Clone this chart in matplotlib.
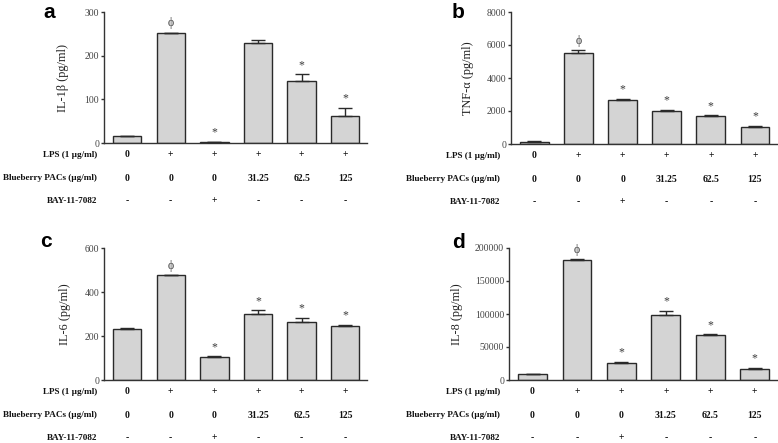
import matplotlib
matplotlib.use("Agg")
import matplotlib.pyplot as plt
import numpy as np

W, H = 778, 443

# ---- data ----
lps = ["0", "+", "+", "+", "+", "+"]
pacs = ["0", "0", "0", "31.25", "62.5", "125"]
bay = ["-", "-", "+", "-", "-", "-"]
row_names = ["LPS (1 \u00b5g/ml)", "Blueberry PACs (\u00b5g/ml)", "BAY-11-7082"]

il1b_mean = [15, 251, 1.5, 228, 143, 61]
il1b_err = [2, 2, 1, 7, 14, 19]
il1b_sig = ["", "\u03d5", "*", "", "*", "*"]

tnf_mean = [100, 5530, 2670, 1970, 1670, 1005]
tnf_err = [60, 180, 60, 100, 80, 100]
tnf_sig = ["", "\u03d5", "*", "*", "*", "*"]

il6_mean = [230, 476, 105, 300, 262, 244]
il6_err = [6, 2, 3, 17, 21, 6]
il6_sig = ["", "\u03d5", "*", "*", "*", "*"]

il8_mean = [8600, 181800, 26300, 98000, 68200, 17200]
il8_err = [1000, 1000, 1000, 6500, 1000, 1000]
il8_sig = ["", "\u03d5", "*", "*", "*", "*"]

panels = [
    dict(letter="a", ylabel="IL-1\u03b2 (pg/ml)", mean=il1b_mean, err=il1b_err, sig=il1b_sig,
         ymax=300, ticks=[0, 100, 200, 300], box=(104, 367, 12, 143), lab=63, let=(43, 18), names_r=97),
    dict(letter="b", ylabel="TNF-\u03b1 (pg/ml)", mean=tnf_mean, err=tnf_err, sig=tnf_sig,
         ymax=8000, ticks=[0, 2000, 4000, 6000, 8000], box=(511, 777, 12, 144), lab=468, let=(452, 18), names_r=500),
    dict(letter="c", ylabel="IL-6 (pg/ml)", mean=il6_mean, err=il6_err, sig=il6_sig,
         ymax=600, ticks=[0, 200, 400, 600], box=(104, 367, 248, 380), lab=65, let=(40, 247), names_r=97),
    dict(letter="d", ylabel="IL-8 (pg/ml)", mean=il8_mean, err=il8_err, sig=il8_sig,
         ymax=200000, ticks=[0, 50000, 100000, 150000, 200000], box=(509, 777, 248, 380), lab=457, let=(452, 248), names_r=500),
]

serif = ["Liberation Serif", "DejaVu Serif"]
plt.rcParams["font.family"] = serif

fig = plt.figure(figsize=(W / 100, H / 100), dpi=100)
fig.patch.set_facecolor("white")

PX = 72.0 / 100.0  # points per pixel
row_off_px = [11.5, 35, 57.5]

for p in panels:
    l, r, t, b = p["box"]
    ax = fig.add_axes([l / W, 1 - b / H, (r - l) / W, (b - t) / H])
    x = np.arange(len(p["mean"]))
    mean = np.array(p["mean"], dtype=float)
    err = np.array(p["err"], dtype=float)
    ax.bar(x, mean, width=0.65, color="#d4d4d4", edgecolor="#2a2a2a", linewidth=1.0, zorder=2)
    ax.errorbar(x, mean, yerr=[np.zeros_like(err), err], fmt="none", ecolor="#2a2a2a",
                elinewidth=1.0, capsize=5.2, capthick=1.0, zorder=3)
    for xi, m, e, s in zip(x, mean, err, p["sig"]):
        if s:
            ax.annotate(s, xy=(xi, m + e), xytext=(0, 4.5), textcoords="offset points",
                        ha="center", va="baseline", fontsize=8.5, color="#3a3a3a",
                        family=serif, annotation_clip=False)
    ax.set_xlim(-0.53, 5.5)
    ax.set_ylim(0, p["ymax"])
    ax.set_yticks(p["ticks"])
    ax.set_xticks([])
    for sp in ["top", "right"]:
        ax.spines[sp].set_visible(False)
    for sp in ["left", "bottom"]:
        ax.spines[sp].set_linewidth(1.0)
        ax.spines[sp].set_color("#333333")
    ax.tick_params(axis="y", length=2.5, width=1.0, color="#333333", labelsize=7,
                   labelcolor="#444444", pad=1)
    ax.set_ylabel(p["ylabel"], fontsize=8.8, va="center", color="#222222")
    axw = r - l
    ax.yaxis.set_label_coords(-(l - p["lab"]) / axw, 0.5)

    # category rows
    for rows, off in zip([lps, pacs, bay], row_off_px):
        for xi, txt in zip(x, rows):
            ax.annotate(txt, xy=(xi, 0), xycoords=("data", "axes fraction"),
                        xytext=(0, -off * PX), textcoords="offset points", ha="center", va="center",
                        fontsize=7, fontweight="bold", color="#111111", annotation_clip=False)
    for name, off in zip(row_names, row_off_px):
        ax.annotate(name, xy=(0, 0), xycoords="axes fraction",
                    xytext=((p["names_r"] - l) * PX, -off * PX), textcoords="offset points",
                    ha="right", va="center",
                    fontsize=6.6, fontweight="bold", color="#111111", annotation_clip=False)

    fig.text(p["let"][0] / W, 1 - p["let"][1] / H, p["letter"], fontsize=15, fontweight="bold",
             family=["Liberation Sans", "DejaVu Sans"], ha="left", va="baseline", color="black")

fig.savefig("out.png", dpi=100, facecolor="white")
